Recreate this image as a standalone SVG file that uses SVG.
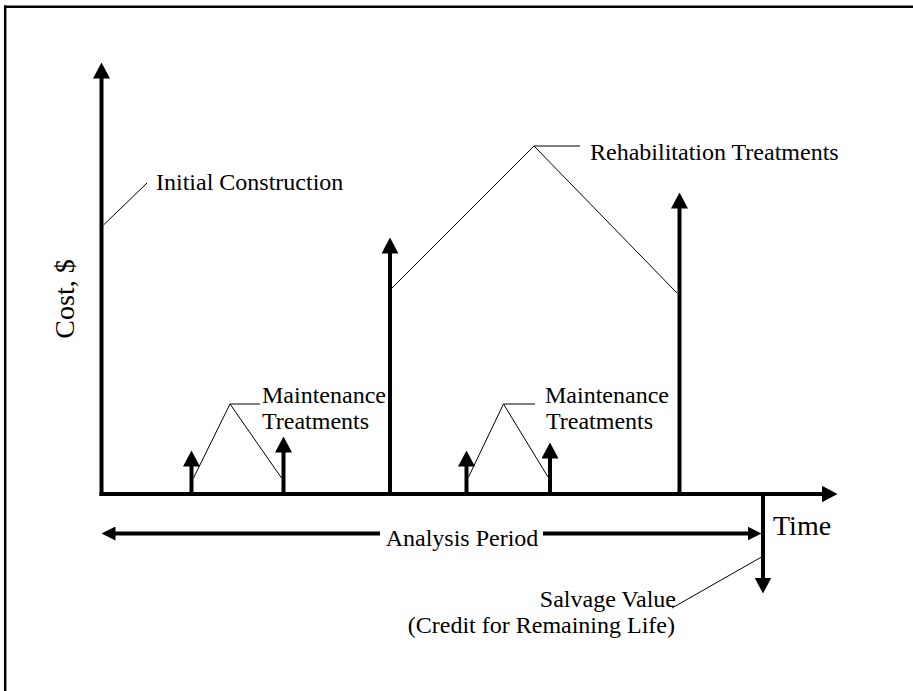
<svg xmlns="http://www.w3.org/2000/svg" width="913" height="691" viewBox="0 0 913 691">
<style>
.thick{stroke:#000;stroke-width:4;fill:none}
.thin{stroke:#000;stroke-width:1;fill:none}
.t{font-family:"Liberation Serif","Times New Roman",serif;font-size:24px;fill:#000}
.big{font-size:28px}
</style>
<defs>
<marker id="ah" viewBox="0 0 16 17" markerWidth="16" markerHeight="17" refX="0.5" refY="8.5" orient="auto" markerUnits="userSpaceOnUse">
<path d="M0,0 L16,8.5 L0,17 z" fill="#000"/>
</marker>
<marker id="as" viewBox="0 0 14 14" markerWidth="14" markerHeight="14" refX="0.5" refY="7" orient="auto" markerUnits="userSpaceOnUse">
<path d="M0,0 L14,7 L0,14 z" fill="#000"/>
</marker>
</defs>
<rect width="913" height="691" fill="#fff"/>
<g id="frame">
<line x1="4" y1="6.8" x2="913" y2="6.8" stroke="#000" stroke-width="2.5"/>
<line x1="5.2" y1="5.5" x2="5.2" y2="691" stroke="#000" stroke-width="2.5"/>
</g>
<g id="connectors">
<line class="thick" x1="101.5" y1="496" x2="101.5" y2="78" marker-end="url(#ah)"/>
<line class="thick" x1="99.5" y1="494" x2="822" y2="494" marker-end="url(#ah)"/>
<line class="thick" x1="191.5" y1="494" x2="191.5" y2="466" marker-end="url(#ah)"/>
<line class="thick" x1="283.5" y1="494" x2="283.5" y2="452" marker-end="url(#ah)"/>
<line class="thick" x1="390" y1="494" x2="390" y2="253" marker-end="url(#ah)"/>
<line class="thick" x1="466.5" y1="494" x2="466.5" y2="466" marker-end="url(#ah)"/>
<line class="thick" x1="550" y1="494" x2="550" y2="458" marker-end="url(#ah)"/>
<line class="thick" x1="679.5" y1="494" x2="679.5" y2="208" marker-end="url(#ah)"/>
<line class="thick" x1="763" y1="492" x2="763" y2="578" marker-end="url(#ah)"/>
<line class="thick" x1="380" y1="533.5" x2="115" y2="533.5" marker-end="url(#as)"/>
<line class="thick" x1="543" y1="533.5" x2="748" y2="533.5" marker-end="url(#as)"/>
<polyline class="thin" points="103.5,225 147,183"/>
<polyline class="thin" points="193.5,478 230,404 260,404"/>
<polyline class="thin" points="230,404 281.5,478"/>
<polyline class="thin" points="468.5,477 503.5,404 535,404"/>
<polyline class="thin" points="503.5,404 548,477"/>
<polyline class="thin" points="392,288 534,146 580,146"/>
<polyline class="thin" points="534,146 677,293"/>
<polyline class="thin" points="672,608 761.5,557"/>
</g>
<g id="label-cost"><text class="t big" transform="translate(74,299) rotate(-90)" text-anchor="middle">Cost, $</text></g>
<g id="label-initial"><text class="t" x="156" y="190">Initial Construction</text></g>
<g id="label-maint1"><text class="t" x="262" y="403">Maintenance</text><text class="t" x="262" y="429">Treatments</text></g>
<g id="label-maint2"><text class="t" x="545" y="403">Maintenance</text><text class="t" x="546" y="429">Treatments</text></g>
<g id="label-rehab"><text class="t" x="590" y="160">Rehabilitation Treatments</text></g>
<g id="label-analysis"><text class="t" x="462" y="546" text-anchor="middle">Analysis Period</text></g>
<g id="label-time"><text class="t big" x="773" y="535">Time</text></g>
<g id="label-salvage"><text class="t" x="676" y="607" text-anchor="end">Salvage Value</text><text class="t" x="675" y="633" text-anchor="end">(Credit for Remaining Life)</text></g>
</svg>
